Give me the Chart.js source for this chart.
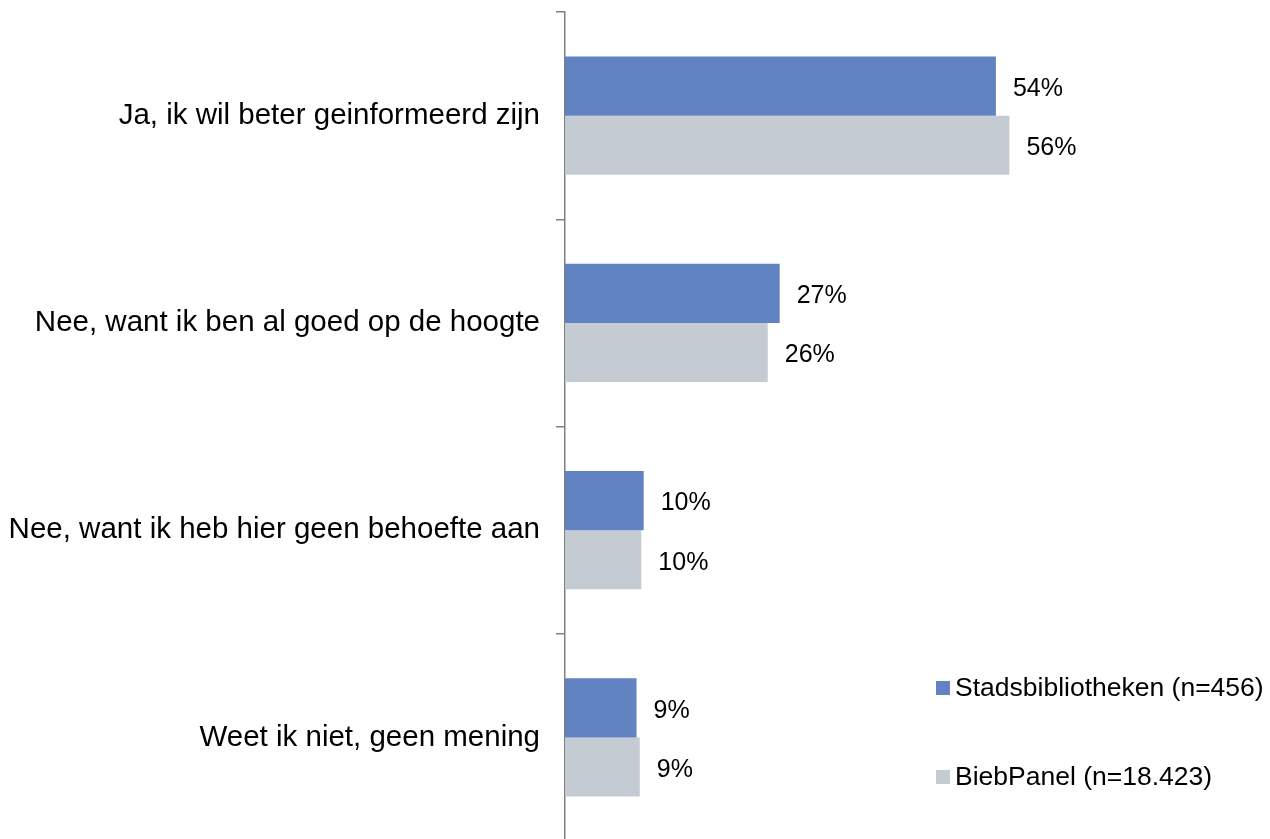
<!DOCTYPE html>
<html>
<head>
<meta charset="utf-8">
<script src="https://cdn.jsdelivr.net/npm/chart.js@4/dist/chart.umd.min.js"></script>
<style>
  html, body { margin: 0; padding: 0; background: #ffffff; overflow: hidden; }
  #wrap { position: relative; width: 1270px; height: 845px; }
</style>
</head>
<body>
<div id="wrap"><canvas id="c"></canvas></div>
<script>
const categories = [
  "Ja, ik wil beter geinformeerd zijn",
  "Nee, want ik ben al goed op de hoogte",
  "Nee, want ik heb hier geen behoefte aan",
  "Weet ik niet, geen mening"
];
const seriesNames = ["Stadsbibliotheken (n=456)", "BiebPanel (n=18.423)"];
const stadsValues = [54.2, 27.0, 9.9, 9.0];
const biebValues = [55.9, 25.5, 9.6, 9.4];
const seriesColors = ["#6283C2", "#C4CBD3"];

const FONT = "'Liberation Sans', Arial, Helvetica, sans-serif";

const valueLabels = {
  id: 'valueLabels',
  afterDatasetsDraw(chart) {
    const ctx = chart.ctx;
    ctx.save();
    ctx.font = "25px " + FONT;
    ctx.fillStyle = "#000000";
    ctx.textAlign = "left";
    ctx.textBaseline = "middle";
    chart.data.datasets.forEach((ds, di) => {
      const meta = chart.getDatasetMeta(di);
      meta.data.forEach((el, i) => {
        ctx.fillText(Math.round(ds.data[i]) + "%", el.x + 17, el.y + 3);
      });
    });
    ctx.restore();
  }
};

const customLegend = {
  id: 'customLegend',
  afterDraw(chart) {
    const ctx = chart.ctx;
    ctx.save();
    ctx.font = "26.5px " + FONT;
    ctx.textAlign = "left";
    ctx.textBaseline = "middle";
    const rows = [688, 777];
    chart.data.datasets.forEach((ds, di) => {
      const y = rows[di];
      ctx.fillStyle = ds.backgroundColor;
      ctx.fillRect(936, y - 7, 14, 14);
      ctx.fillStyle = "#000000";
      ctx.fillText(ds.label, 955, y + 1);
    });
    ctx.restore();
  }
};

new Chart(document.getElementById('c'), {
  type: 'bar',
  data: {
    labels: categories,
    datasets: [
      { label: seriesNames[0], data: stadsValues, backgroundColor: seriesColors[0], borderWidth: 0 },
      { label: seriesNames[1], data: biebValues, backgroundColor: seriesColors[1], borderWidth: 0 }
    ]
  },
  options: {
    indexAxis: 'y',
    responsive: true,
    maintainAspectRatio: false,
    animation: false,
    devicePixelRatio: 1,
    categoryPercentage: 0.57,
    barPercentage: 1.0,
    layout: { padding: { top: 12, bottom: 4, left: 0, right: 228 } },
    plugins: { legend: { display: false }, tooltip: { enabled: false } },
    scales: {
      x: { display: false, min: 0, max: 60 },
      y: {
        afterFit(scale) { scale.width = 565; scale.paddingTop = 0; scale.paddingBottom = 0; },
        grid: { display: true, drawOnChartArea: false, drawTicks: true, tickLength: 9, color: '#7f7f7f', lineWidth: 1.5, offset: true },
        border: { display: true, color: '#7f7f7f', width: 1.5 },
        ticks: { color: '#000000', padding: 16, font: { size: 29.5, family: FONT } }
      }
    }
  },
  plugins: [valueLabels, customLegend]
});
</script>
</body>
</html>
